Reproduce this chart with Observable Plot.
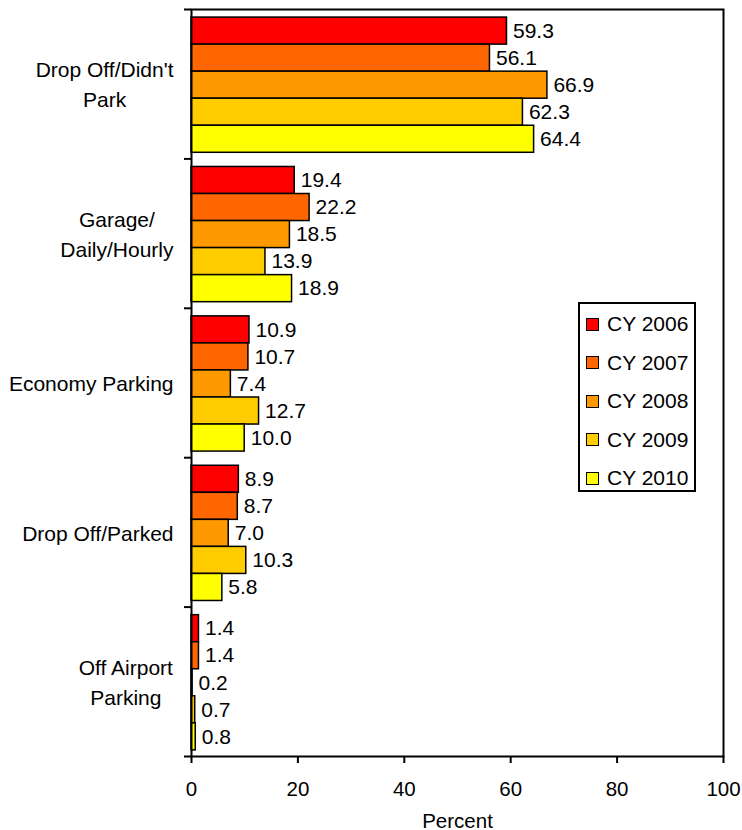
<!DOCTYPE html>
<html><head><meta charset="utf-8">
<script src="https://cdn.jsdelivr.net/npm/d3@7"></script>
<script src="https://cdn.jsdelivr.net/npm/@observablehq/plot@0.6"></script>
<style>
body{margin:0;background:#fff;font-family:"Liberation Sans",Arial,sans-serif}
#wrap{position:relative;width:742px;height:830px}
#legend{position:absolute;left:578px;top:302px;width:114px;height:186px;border:2px solid #000;background:#fff}
.row{position:absolute;left:6px;height:24px;display:flex;align-items:center;font-size:21px;color:#000;white-space:nowrap}
.sw{width:11px;height:11px;border:1.5px solid #000;margin-right:8px}
</style></head><body><div id="wrap"><div id="legend"></div></div>
<script>
const categories = ["Drop Off/Didn't Park", "Garage/ Daily/Hourly", "Economy Parking", "Drop Off/Parked", "Off Airport Parking"];
const categoryLines = [["Drop Off/Didn't", "Park"], ["Garage/", "Daily/Hourly"], ["Economy Parking"], ["Drop Off/Parked"], ["Off Airport", "Parking"]];
const years = ["CY 2006", "CY 2007", "CY 2008", "CY 2009", "CY 2010"];
const colors = ["#FF0000", "#FF6600", "#FF9900", "#FFCC00", "#FFFF00"];
const cy2006 = [59.3, 19.4, 10.9, 8.9, 1.4];
const cy2007 = [56.1, 22.2, 10.7, 8.7, 1.4];
const cy2008 = [66.9, 18.5, 7.4, 7.0, 0.2];
const cy2009 = [62.3, 13.9, 12.7, 10.3, 0.7];
const cy2010 = [64.4, 18.9, 10.0, 5.8, 0.8];
const xTicks = [0, 20, 40, 60, 80, 100];

const series = [cy2006, cy2007, cy2008, cy2009, cy2010];
const padTop = 0.054, barH = 0.181;
const rows = [];
categories.forEach((c, ci) => {
  years.forEach((yr, yi) => {
    const y1 = ci + padTop + yi * barH;
    rows.push({cat: c, year: yr, value: series[yi][ci], y1, y2: y1 + barH});
  });
});

const font = "21px 'Liberation Sans', Arial, sans-serif";
const ctx = document.createElement("canvas").getContext("2d");
ctx.font = font;
const catMarks = categoryLines.map((lines, ci) => {
  const w = Math.max(...lines.map(l => ctx.measureText(l).width));
  return Plot.text([lines.join("\n")], {
    frameAnchor: "left", y: () => ci + 0.49, text: d => d,
    textAnchor: "middle", dx: -(18 + w / 2), lineHeight: 1.43, fontSize: 21, fill: "#000"
  });
});

const chart = Plot.plot({
  width: 742, height: 830,
  marginLeft: 191, marginRight: 19, marginTop: 9, marginBottom: 74,
  style: {fontFamily: "'Liberation Sans', Arial, sans-serif", fontSize: "20.5px", color: "#000", background: "#fff"},
  x: {domain: [0, 100]},
  y: {domain: [0, 5], reverse: true},
  color: {domain: years, range: colors},
  marks: [
    Plot.rect(rows, {x1: () => 0, x2: "value", y1: "y1", y2: "y2", fill: "year", stroke: "#000", strokeWidth: 1.5}),
    Plot.text(rows, {x: "value", y: d => (d.y1 + d.y2) / 2, text: d => d.value.toFixed(1), textAnchor: "start", dx: 6, fontSize: 21, fill: "#000"}),
    ...catMarks,
    Plot.axisY({ticks: [0, 1, 2, 3, 4, 5], tickSize: 7, tickFormat: () => "", label: null, strokeWidth: 2}),
    Plot.axisX({ticks: xTicks, tickSize: 7, tickPadding: 18, label: "Percent", labelAnchor: "center", labelArrow: "none", strokeWidth: 2}),
    Plot.frame({stroke: "#000", strokeWidth: 2})
  ]
});
document.getElementById("wrap").prepend(chart);

const legend = document.getElementById("legend");
years.forEach((yr, i) => {
  const r = document.createElement("div");
  r.className = "row";
  r.style.top = (8 + i * 38.5) + "px";
  r.innerHTML = `<div class="sw" style="background:${colors[i]}"></div><span>${yr}</span>`;
  legend.appendChild(r);
});
</script></body></html>
